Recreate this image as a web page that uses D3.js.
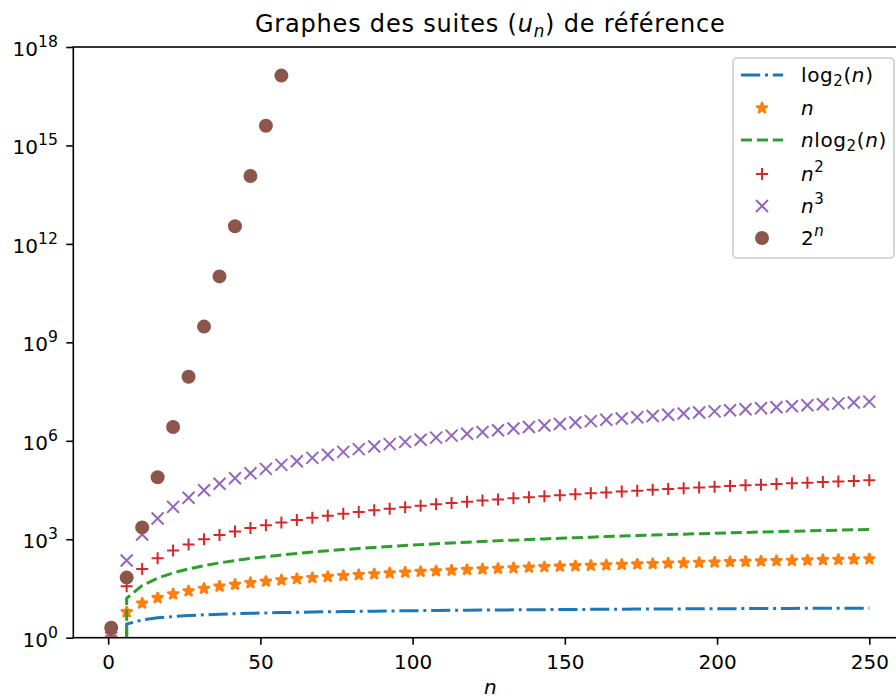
<!DOCTYPE html>
<html><head><meta charset="utf-8">
<script src="https://cdn.jsdelivr.net/npm/d3@7"></script>
<style>body{margin:0;background:#fff} svg{display:block} text{font-family:"DejaVu Sans";fill:#000}</style>
</head><body><svg id="c" width="896" height="698"></svg>
<script>
// ---- data ----
const nValues = [1, 6.0816, 11.1633, 16.2449, 21.3265, 26.4082, 31.4898, 36.5714, 41.6531, 46.7347,
  51.8163, 56.8980, 61.9796, 67.0612, 72.1429, 77.2245, 82.3061, 87.3878, 92.4694, 97.5510,
  102.6327, 107.7143, 112.7959, 117.8776, 122.9592, 128.0408, 133.1224, 138.2041, 143.2857, 148.3673,
  153.4490, 158.5306, 163.6122, 168.6939, 173.7755, 178.8571, 183.9388, 189.0204, 194.1020, 199.1837,
  204.2653, 209.3469, 214.4286, 219.5102, 224.5918, 229.6735, 234.7551, 239.8367, 244.9184, 250];
// series defined by the legend labels (reference sequences)
const seriesLog2 = nValues.map(n => Math.log2(n));
const seriesN = nValues.map(n => n);
const seriesNLog2 = nValues.map(n => n * Math.log2(n));
const seriesN2 = nValues.map(n => n * n);
const seriesN3 = nValues.map(n => n * n * n);
const series2N = nValues.map(n => Math.pow(2, n));
const seriesLabels = ['$\\log_2(n)$', '$n$', '$n\\log_2(n)$', '$n^2$', '$n^3$', '$2^n$'];
const xTicks = [0, 50, 100, 150, 200, 250];
const yTickExponents = [0, 3, 6, 9, 12, 15, 18];
const titleText = 'Graphes des suites ($u_n$) de référence';
const xLabelText = '$n$';

// ---- layout ----
const svg = d3.select('#c');
const P = {left: 73.3, right: 907.2, top: 47, bottom: 637.7};
const xDom = [-11.45, 262.45];
const x = d3.scaleLinear().domain(xDom).range([P.left, P.right]);
const y = d3.scaleLog().domain([1, 1e18]).range([P.bottom, P.top]);
const pxPerDec = (P.bottom - P.top) / 18;
const yv = v => v > 0 ? y(v) : P.bottom + 1000 * pxPerDec;

const colors = {blue:'#1f77b4', orange:'#ff7f0e', green:'#2ca02c', red:'#d62728', purple:'#9467bd', brown:'#8c564b'};

function mathText(sel, str, size, supScale) {
  supScale = supScale || 0.7;
  const toks = [];
  let i = 0, math = false;
  while (i < str.length) {
    let c = str[i];
    if (c === '$') { math = !math; i++; continue; }
    if (!math) { toks.push({t: c, it: false, pos: 0}); i++; continue; }
    let pos = 0;
    if (c === '^' || c === '_') { pos = c === '^' ? 1 : -1; i++; c = str[i]; }
    let t;
    if (c === '{') { const j = str.indexOf('}', i); t = str.slice(i + 1, j); i = j + 1; }
    else if (c === '\\') { t = str.slice(i + 1).match(/^[a-z]+/)[0]; i += 1 + t.length; toks.push({t, it: false, pos}); continue; }
    else { t = c; i++; }
    toks.push({t, it: /^[a-zA-Z]+$/.test(t), pos});
  }
  const merged = [];
  toks.forEach(k => {
    const l = merged[merged.length - 1];
    if (l && l.it === k.it && l.pos === k.pos) l.t += k.t; else merged.push({...k});
  });
  let cur = 0;
  merged.forEach(k => {
    const off = k.pos === 1 ? -0.45 * size : k.pos === -1 ? 0.2 * size : 0;
    sel.append('tspan').attr('dy', off - cur).attr('font-size', k.pos ? size * supScale : size)
      .attr('font-style', k.it ? 'italic' : 'normal').text(k.t);
    cur = off;
  });
  return sel;
}

// clip
svg.append('defs').append('clipPath').attr('id', 'clip').append('rect')
  .attr('x', P.left).attr('y', P.top).attr('width', P.right - P.left).attr('height', P.bottom - P.top);
const g = svg.append('g').attr('clip-path', 'url(#clip)');

const line = d3.line().x((d, i) => x(nValues[i])).y(d => yv(d));

function starPath(R) {
  const r = R * 0.381966, p = [];
  for (let i = 0; i < 10; i++) {
    const a = -Math.PI / 2 + i * Math.PI / 5, rr = i % 2 ? r : R;
    p.push([(rr * Math.cos(a)).toFixed(3), (rr * Math.sin(a)).toFixed(3)]);
  }
  return 'M' + p.map(q => q.join(',')).join('L') + 'Z';
}
const markers = {
  star: {d: starPath(6), fill: true, join: 'bevel'},
  plus: {d: 'M-6,0H6M0,-6V6', fill: false},
  x: {d: 'M-6,-6L6,6M-6,6L6,-6', fill: false},
  circle: {d: d3.arc()({innerRadius: 0, outerRadius: 6, startAngle: 0, endAngle: 2 * Math.PI}), fill: true, join: 'round'}
};
const specs = [
  {data: seriesLog2, color: colors.blue, line: '19.2,4.8,3,4.8'},
  {data: seriesN, color: colors.orange, marker: 'star'},
  {data: seriesNLog2, color: colors.green, line: '11.1,4.8'},
  {data: seriesN2, color: colors.red, marker: 'plus'},
  {data: seriesN3, color: colors.purple, marker: 'x'},
  {data: series2N, color: colors.brown, marker: 'circle'}
];

function drawMarker(sel, m, color) {
  const mk = markers[m];
  sel.append('path').attr('d', mk.d).attr('fill', mk.fill ? color : 'none').attr('stroke', color)
    .attr('stroke-width', 2).attr('stroke-linejoin', mk.join || 'miter');
}

specs.forEach(s => {
  if (s.line) {
    g.append('path').attr('d', line(s.data)).attr('fill', 'none').attr('stroke', s.color)
      .attr('stroke-width', 3).attr('stroke-dasharray', s.line);
  } else {
    s.data.forEach((v, i) => {
      const py = yv(v);
      if (!isFinite(py) || py < P.top - 20) return;
      drawMarker(g.append('g').attr('transform', `translate(${x(nValues[i])},${py})`), s.marker, s.color);
    });
  }
});

// axes spines
svg.append('rect').attr('x', P.left).attr('y', P.top).attr('width', P.right - P.left).attr('height', P.bottom - P.top)
  .attr('fill', 'none').attr('stroke', '#000').attr('stroke-width', 1.6);

// x axis
const xAxis = svg.append('g').attr('transform', `translate(0,${P.bottom})`)
  .call(d3.axisBottom(x).tickValues(xTicks).tickSize(7).tickPadding(7).tickFormat(d3.format('d')));
xAxis.select('.domain').remove();
xAxis.selectAll('line').attr('stroke-width', 1.6);
xAxis.selectAll('text').attr('font-size', 20).attr('font-family', 'DejaVu Sans').attr('dy', 0).attr('y', 31.5);

// y axis
const yAxis = svg.append('g').attr('transform', `translate(${P.left},0)`)
  .call(d3.axisLeft(y).tickValues(yTickExponents.map(e => Math.pow(10, e))).tickSize(7).tickPadding(8.5).tickFormat(''));
yAxis.select('.domain').remove();
yAxis.selectAll('line').attr('stroke-width', 1.6);
yAxis.selectAll('text').each(function(d) {
  const e = Math.round(Math.log10(d));
  const t = d3.select(this).attr('font-size', 20).attr('font-family', 'DejaVu Sans').attr('dy', 0).attr('y', 8.3).text(null);
  mathText(t, `$10^{${e}}$`, 20, 0.78);
});

// title
mathText(svg.append('text').attr('x', (P.left + P.right) / 2).attr('y', 32).attr('text-anchor', 'middle')
  .attr('letter-spacing', 0.8), titleText, 24);
// x label
mathText(svg.append('text').attr('x', (P.left + P.right) / 2).attr('y', 694).attr('text-anchor', 'middle'), xLabelText, 20);

// legend
const L = {x0: 733, x1: 894, y0: 58, y1: 258};
svg.append('rect').attr('x', L.x0).attr('y', L.y0).attr('width', L.x1 - L.x0).attr('height', L.y1 - L.y0)
  .attr('rx', 4).attr('fill', 'rgba(255,255,255,0.8)').attr('stroke', '#cccccc').attr('stroke-width', 1.6);
const rowY = [75, 108, 140, 174, 206, 238];
specs.forEach((s, i) => {
  const cy = rowY[i];
  if (s.line) {
    svg.append('line').attr('x1', 741).attr('x2', 783).attr('y1', cy).attr('y2', cy)
      .attr('stroke', s.color).attr('stroke-width', 3).attr('stroke-dasharray', s.line);
  } else {
    drawMarker(svg.append('g').attr('transform', `translate(762,${cy})`), s.marker, s.color);
  }
  mathText(svg.append('text').attr('x', 801).attr('y', cy + 7).attr('letter-spacing', 0.6), seriesLabels[i], 20, 0.75);
});
</script></body></html>
